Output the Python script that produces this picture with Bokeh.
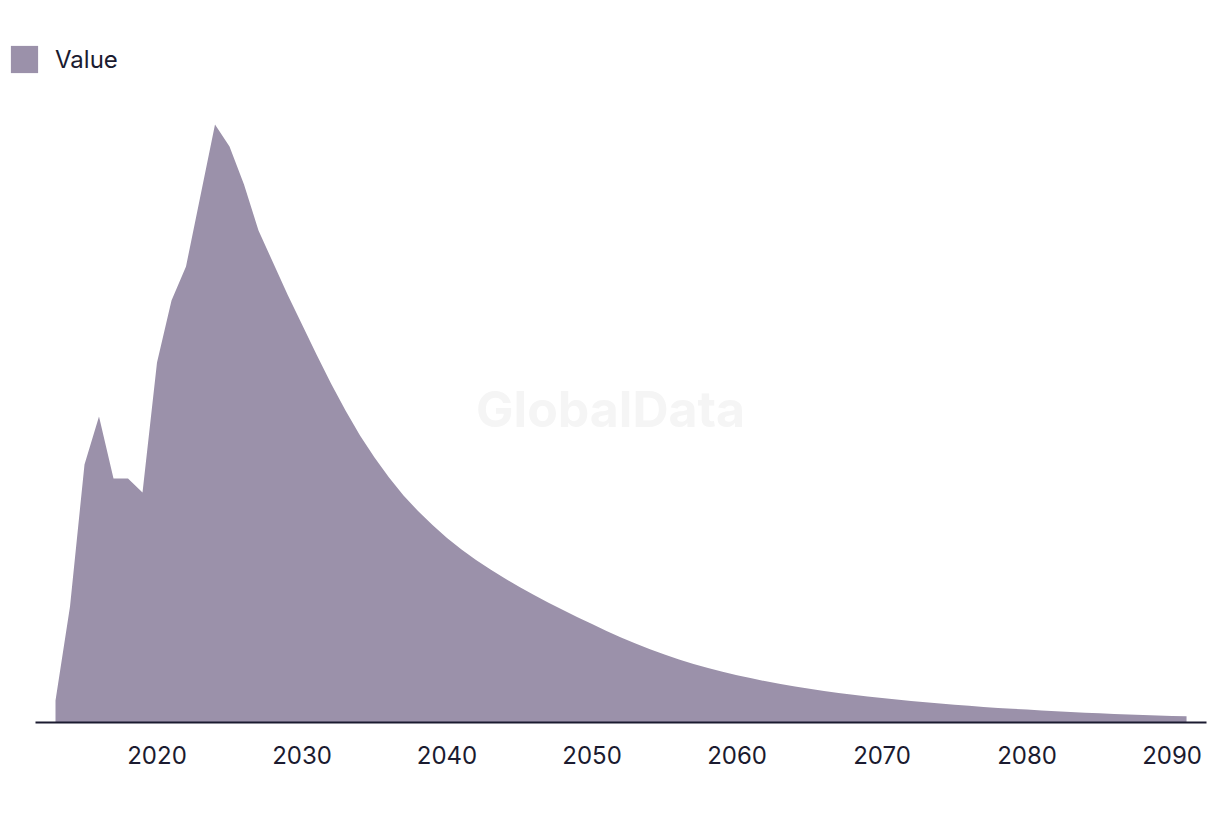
from bokeh.plotting import figure
from bokeh.models import Range1d, FixedTicker, Legend, LegendItem, Label
from bokeh.embed import file_html
from bokeh.resources import INLINE

years = list(range(2013, 2092))
values = [
    22, 116, 258, 306, 244, 244, 230, 360, 422, 456,
    527, 598, 576, 538, 492, 460, 428, 398, 368, 339,
    312, 287, 265, 245, 227, 211.5, 197.5, 184.5, 173, 162.5,
    153, 144, 135.5, 127.5, 119.8, 112.4, 105.3, 98.5, 91.6, 85.1,
    79.0, 73.3, 68.0, 63.1, 58.6, 54.5, 50.8, 47.3, 44.2, 41.2,
    38.5, 36.0, 33.7, 31.6, 29.6, 27.8, 26.0, 24.5, 23.0, 21.5,
    20.2, 19.0, 17.8, 16.7, 15.6, 14.6, 13.7, 12.9, 12.0, 11.3,
    10.5, 9.8, 9.2, 8.6, 8.1, 7.6, 7.1, 6.6, 6.2,
]
tick_years = [2020, 2030, 2040, 2050, 2060, 2070, 2080, 2090]
series_name = "Value"

FILL = "#9b91aa"
INK = "#1b1b30"
FONT = "Inter"

W, H = 1212, 798
p = figure(
    width=W, height=H,
    x_range=Range1d(2009.207, 2092.79),
    y_range=Range1d(0, 722),
    output_backend="svg", toolbar_location=None,
    min_border_left=0, min_border_right=0,
    min_border_top=0, min_border_bottom=76,
)
p.outline_line_color = None
p.background_fill_color = "white"
p.border_fill_color = "white"
p.grid.visible = False
p.yaxis.visible = False

wm = Label(x=2051.28, y=314, text="GlobalData", text_font=FONT,
           text_font_style="bold", text_font_size="50px",
           text_color="#f5f5f5", text_align="center",
           text_baseline="middle", level="underlay")
p.add_layout(wm)

area = p.varea(x=years, y1=0, y2=values, fill_color=FILL, fill_alpha=1.0)

ax = p.xaxis[0]
ax.bounds = (2011.62, 2092.38)
ax.ticker = FixedTicker(ticks=tick_years)
ax.axis_line_color = INK
ax.axis_line_width = 2
ax.major_tick_line_color = None
ax.minor_tick_line_color = None
ax.major_label_text_font = FONT
ax.major_label_text_font_size = "24px"
ax.major_label_text_color = INK
ax.major_label_standoff = 17

legend = Legend(
    items=[LegendItem(label=series_name, renderers=[area])],
    location=(7, 646),
    orientation="horizontal",
    glyph_width=34, glyph_height=34,
    label_text_font=FONT, label_text_font_size="24px",
    label_text_color=INK, label_standoff=14,
    padding=0, margin=0, spacing=0,
    border_line_color=None, background_fill_alpha=0,
)
p.add_layout(legend)

open("out.html", "w").write(file_html(p, INLINE))
